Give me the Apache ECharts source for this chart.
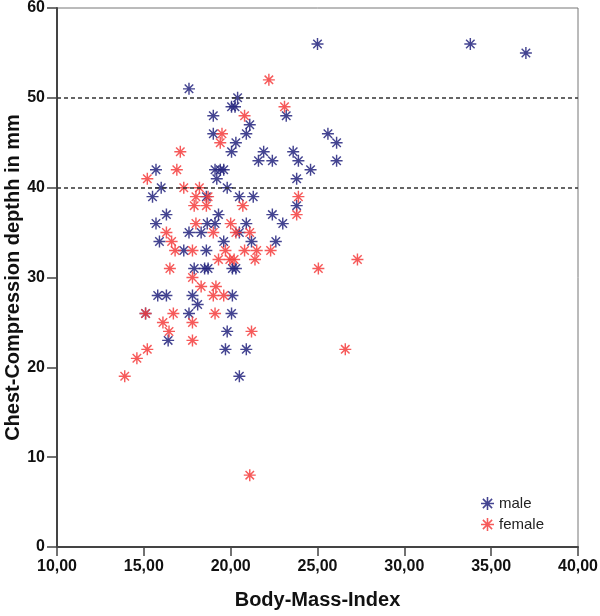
<!DOCTYPE html>
<html>
<head>
<meta charset="utf-8">
<script src="https://cdn.jsdelivr.net/npm/echarts@6/dist/echarts.min.js"></script>
<style>html,body{margin:0;padding:0;background:#fff}#c{width:600px;height:616px}</style>
</head>
<body>
<div id="c"></div>
<script>
const xTicks = [10, 15, 20, 25, 30, 35, 40];
const yTicks = [0, 10, 20, 30, 40, 50, 60];
const refLines = [40, 50];
const seriesNames = ['male', 'female'];

const maleBMI = [25.0,33.8,37.0,17.6,20.4,20.05,20.25,19.0,23.2,21.1,19.0,20.9,25.6,20.3,26.1,20.05,21.9,23.6,21.6,22.4,23.9,26.1,15.7,19.1,19.4,19.6,24.6,19.2,23.8,16.0,19.8,15.5,20.5,21.3,18.6,23.8,16.3,19.3,22.4,15.7,18.65,19.1,20.9,23.0,17.6,18.3,20.5,15.9,19.6,21.2,22.6,17.3,18.6,17.9,18.5,18.7,20.1,20.3,15.8,16.3,17.8,20.1,18.1,17.6,20.05,15.1,19.8,16.4,19.7,20.9,20.5];
const maleDepth = [56,56,55,51,50,49,49,48,48,47,46,46,46,45,45,44,44,44,43,43,43,43,42,42,42,42,42,41,41,40,40,39,39,39,39,38,37,37,37,36,36,36,36,36,35,35,35,34,34,34,34,33,33,31,31,31,31,31,28,28,28,28,27,26,26,26,24,23,22,22,19];

const femaleBMI = [22.2,23.1,20.8,19.5,19.4,17.1,16.9,15.2,17.3,18.2,18.0,18.7,17.9,18.6,20.7,23.9,23.8,18.0,20.0,16.3,19.0,20.3,21.1,16.6,16.8,17.8,19.7,20.8,21.5,22.3,19.3,19.95,20.2,21.4,27.3,16.5,25.05,17.8,18.3,19.15,19.0,19.6,15.1,16.7,19.1,16.1,17.8,16.45,21.2,17.8,15.2,26.6,14.6,13.9,21.1];
const femaleDepth = [52,49,48,46,45,44,42,41,40,40,39,39,38,38,38,39,37,36,36,35,35,35,35,34,33,33,33,33,33,33,32,32,32,32,32,31,31,30,29,29,28,28,26,26,26,25,25,24,24,23,22,22,21,19,8];

const star = 'path://M8.8 0L11.2 0L11.2 20L8.8 20Z M0 8.8L20 8.8L20 11.2L0 11.2Z M3.78 2.08L17.92 16.22L16.22 17.92L2.08 3.78Z M16.22 2.08L17.92 3.78L3.78 17.92L2.08 16.22Z';

function pairs(xs, ys) { return xs.map((x, i) => [x, ys[i]]); }

const chart = echarts.init(document.getElementById('c'), null, {renderer: 'canvas'});
const FONT = 'Liberation Sans, Arial, sans-serif';
chart.setOption({
  animation: false,
  backgroundColor: '#fff',
  grid: {left: 57, right: 22, top: 8, bottom: 69, show: true, borderColor: '#777', borderWidth: 1,
    containLabel: false, outerBoundsMode: 'none'},
  xAxis: {
    type: 'value', min: xTicks[0], max: xTicks[xTicks.length - 1], interval: 5,
    name: 'Body-Mass-Index', nameLocation: 'middle', nameGap: 43, nameMoveOverlap: false,
    nameTextStyle: {fontFamily: FONT, fontWeight: 'bold', fontSize: 20, color: '#111'},
    axisLine: {show: true, lineStyle: {color: '#444', width: 2}},
    axisTick: {show: true, inside: false, length: 9, lineStyle: {color: '#444', width: 1.5}},
    axisLabel: {fontFamily: FONT, fontWeight: 'bold', fontSize: 16, color: '#111', margin: 12,
      formatter: v => v.toFixed(2).replace('.', ',')},
    splitLine: {show: false}
  },
  yAxis: {
    type: 'value', min: yTicks[0], max: yTicks[yTicks.length - 1], interval: 10,
    name: 'Chest-Compression depthh in mm', nameLocation: 'middle', nameGap: 34, nameMoveOverlap: false,
    nameTextStyle: {fontFamily: FONT, fontWeight: 'bold', fontSize: 20, color: '#111'},
    axisLine: {show: true, lineStyle: {color: '#444', width: 2}},
    axisTick: {show: true, inside: false, length: 10, lineStyle: {color: '#444', width: 1.5}},
    axisLabel: {fontFamily: FONT, fontWeight: 'bold', fontSize: 16, color: '#111', margin: 12},
    splitLine: {show: false}
  },
  legend: {
    orient: 'vertical', left: 476, top: 491, itemGap: 6, itemWidth: 13, itemHeight: 13,
    textStyle: {fontFamily: FONT, fontSize: 15, color: '#222'},
    data: seriesNames.map(n => ({name: n, icon: star}))
  },
  series: [
    {
      name: seriesNames[0], type: 'scatter', symbol: star, symbolSize: 12,
      itemStyle: {color: '#23237e', opacity: 0.85},
      data: pairs(maleBMI, maleDepth),
      markLine: {
        silent: true, symbol: ['none', 'none'], label: {show: false},
        lineStyle: {color: '#333', type: [4, 3], width: 1.5},
        data: refLines.map(v => ({yAxis: v}))
      }
    },
    {
      name: seriesNames[1], type: 'scatter', symbol: star, symbolSize: 12,
      itemStyle: {color: '#f43d3d', opacity: 0.85},
      data: pairs(femaleBMI, femaleDepth)
    }
  ]
});
</script>
</body>
</html>
